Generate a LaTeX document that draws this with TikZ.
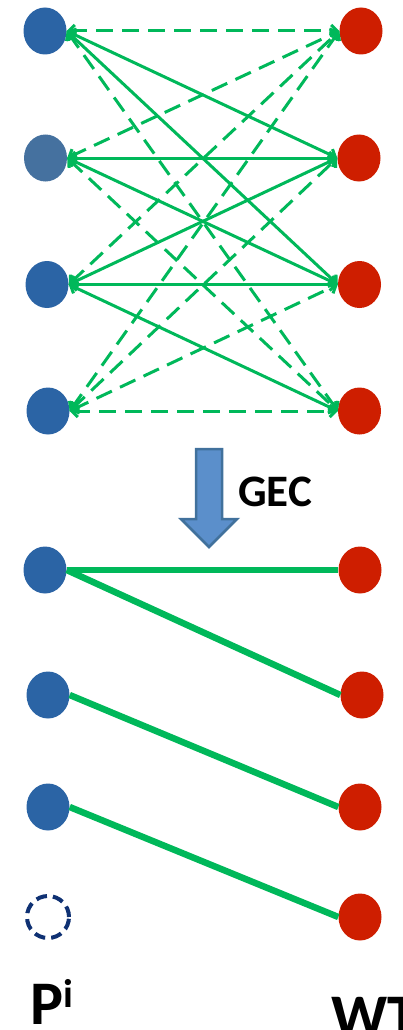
\documentclass[tikz,border=0pt]{standalone}
\usepackage{fontspec}
\setmainfont{Carlito}
\usetikzlibrary{shapes.geometric,arrows.meta}
\definecolor{pblue}{HTML}{2B64A5}
\definecolor{pslate}{HTML}{45719F}
\definecolor{wred}{HTML}{CE1E00}
\definecolor{lgreen}{HTML}{00B85A}
\definecolor{arrfill}{HTML}{5B8FCB}
\definecolor{arredge}{HTML}{41719C}
\definecolor{navy}{HTML}{0F3173}
\tikzset{
  x=1pt, y=-1pt,
  dot/.style={ellipse, minimum width=43pt, minimum height=47pt, inner sep=0pt, draw=none},
  pnode/.style={dot, fill=pblue},
  wnode/.style={dot, fill=wred},
  link/.style={draw=lgreen, line width=3pt, {Straight Barb[length=6pt,width=12pt]}-{Straight Barb[length=6pt,width=12pt]}},
  solidlink/.style={link},
  dashlink/.style={link, dash pattern=on 17pt off 9pt},
  match/.style={draw=lgreen, line width=6.5pt},
  lbl/.style={font=\bfseries, inner sep=0pt, anchor=base west},
}
\begin{document}
\begin{tikzpicture}
\useasboundingbox (0,0) rectangle (402,1030);
\clip (0,0) rectangle (402,1030);

% candidate pairings
\node[pnode] (a1) at (45,31) {};
\node[dot, fill=pslate] (a2) at (45.5,158) {};
\node[pnode] (a3) at (47,284.5) {};
\node[pnode] (a4) at (48,411) {};
\node[wnode] (b1) at (361,31) {};
\node[wnode] (b2) at (359,158) {};
\node[wnode] (b3) at (359.5,284.5) {};
\node[wnode] (b4) at (359.5,411) {};

\path[dashlink] (a1.east) -- (b1.west);
\path[dashlink] (a1.east) -- (b4.west);
\path[dashlink] (a2.east) -- (b1.west);
\path[dashlink] (a2.east) -- (b4.west);
\path[dashlink] (a3.east) -- (b1.west);
\path[dashlink] (a4.east) -- (b1.west);
\path[dashlink] (a4.east) -- (b2.west);
\path[dashlink] (a4.east) -- (b3.west);
\path[dashlink] (a4.east) -- (b4.west);
\path[solidlink] (a1.east) -- (b2.west);
\path[solidlink] (a1.east) -- (b3.west);
\path[solidlink] (a2.east) -- (b2.west);
\path[solidlink] (a2.east) -- (b3.west);
\path[solidlink] (a3.east) -- (b2.west);
\path[solidlink] (a3.east) -- (b3.west);
\path[solidlink] (a3.east) -- (b4.west);

% transition arrow
\draw[fill=arrfill, draw=arredge, line width=2.5pt, line join=miter]
  (196,449) -- (222,449) -- (222,519) -- (237,519) -- (209,547) -- (181,519) -- (196,519) -- cycle;
\node[lbl, font=\bfseries\fontsize{45}{45}\selectfont] (gec) at (238,506) {GEC};

% resulting matching
\node[pnode] (c1) at (45,570) {};
\node[pnode] (c2) at (48,695) {};
\node[pnode] (c3) at (48,807) {};
\node[draw=navy, line width=4pt, dash pattern=on 11pt off 6pt, circle, minimum size=42pt, inner sep=0pt] (c4) at (48,917) {};
\node[wnode] (d1) at (360,570) {};
\node[wnode] (d2) at (362,695) {};
\node[wnode] (d3) at (360,807) {};
\node[wnode] (d4) at (360,917) {};

\draw[match] (c1.east) -- (d1.west);
\draw[match] (c1.east) -- (d2.west);
\draw[match] (c2.east) -- (d3.west);
\draw[match] (c3.east) -- (d4.west);

% side labels
\node[lbl, font=\bfseries\fontsize{62}{62}\selectfont] (plbl) at (30,1024) {P\raisebox{0.55ex}{\fontsize{40}{40}\selectfont i}};
\node[lbl, font=\bfseries\fontsize{62}{62}\selectfont] (wlbl) at (331,1037) {WT};
\end{tikzpicture}
\end{document}
